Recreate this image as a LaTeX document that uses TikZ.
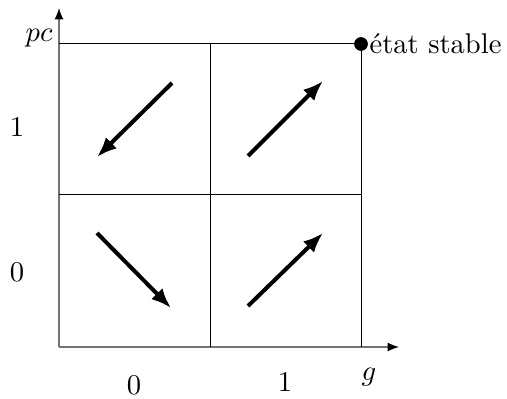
\documentclass[tikz,border=0pt]{standalone}
\usetikzlibrary{arrows.meta}
\begin{document}
\begin{tikzpicture}[x=0.35pt,y=-0.35pt,
  axis/.style={draw=gray!90!black,line width=0.5pt,-{Latex[length=4pt,width=3.2pt,black]}},
  gridline/.style={draw=black,line width=0.35pt},
  flow/.style={draw=black,line width=1.4pt,-{Latex[length=7pt,width=5.5pt]}},
  lbl/.style={inner sep=0pt}]
\useasboundingbox (0,0) rectangle (507,399);
\coordinate (O) at (59,347);
\coordinate (xe) at (399,347);
\coordinate (ye) at (59,8);
\draw[axis] (O) -- (xe);
\draw[axis] (O) -- (ye);
% grid
\draw[gridline] (59,44) -- (361,44) -- (361,347);
\draw[gridline] (210,44) -- (210,347);
\draw[gridline] (59,195) -- (361,195);
% arrows
\coordinate (a1) at (172,83); \coordinate (b1) at (97,157);
\coordinate (a2) at (248,156); \coordinate (b2) at (323,81);
\coordinate (a3) at (97,233); \coordinate (b3) at (171,308);
\coordinate (a4) at (248,306); \coordinate (b4) at (323,233);
\draw[flow] (a1) -- (b1);
\draw[flow] (a2) -- (b2);
\draw[flow] (a3) -- (b3);
\draw[flow] (a4) -- (b4);
% stable point
\node[circle,fill=black,inner sep=0pt,minimum size=4.8pt] (st) at (361,44) {};
\node[anchor=west,inner sep=0pt] (stl) at ([xshift=0.2pt]st.east) {état stable};
% labels
\node (pc) at (39,38) {$pc$};
\node (y1) at (17,127) {1};
\node (y0) at (17,272) {0};
\node (x0) at (134,385) {0};
\node (x1) at (285,382) {1};
\node (g) at (369,377) {$g$};
\end{tikzpicture}
\end{document}
